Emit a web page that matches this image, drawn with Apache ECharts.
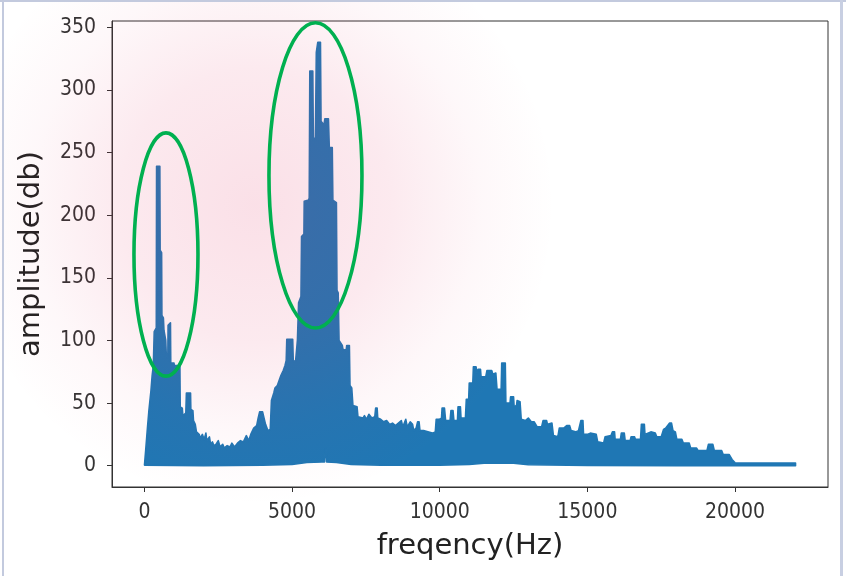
<!DOCTYPE html>
<html><head><meta charset="utf-8">
<script src="https://cdn.jsdelivr.net/npm/echarts@6/dist/echarts.min.js"></script>
<style>html,body{margin:0;padding:0;background:#fff}#c{width:846px;height:576px}</style>
</head><body><div id="c"></div>
<script>
// upper envelope of the spectrum (Hz, amplitude)
const freqHz = [0,40,100,150,220,260,300,330,400,410,520,530,580,590,640,660,720,740,790,800,880,890,1000,1010,1200,1210,1280,1300,1400,1420,1560,1570,1640,1660,1720,1760,1850,1900,1960,2020,2080,2110,2200,2240,2300,2350,2420,2500,2560,2650,2700,2800,2900,2960,3050,3150,3250,3350,3450,3530,3600,3700,3800,3850,3900,4000,4050,4100,4180,4260,4300,4380,4420,4500,4560,4620,4700,4760,4800,4820,5020,5040,5120,5180,5220,5300,5320,5400,5410,5560,5580,5600,5700,5720,5790,5820,5870,5960,5980,6080,6110,6230,6260,6360,6380,6500,6520,6560,6590,6700,6720,6830,6850,6940,6960,7020,7060,7200,7230,7400,7450,7520,7600,7700,7800,7830,7880,7900,8000,8100,8200,8300,8400,8500,8600,8700,8750,8850,8900,9000,9080,9120,9200,9250,9300,9330,9450,9600,9750,9850,9880,9980,10060,10080,10160,10200,10350,10380,10450,10480,10600,10620,10700,10720,10870,10900,10980,11000,11120,11140,11230,11260,11300,11380,11400,11560,11600,11760,11800,11900,11940,12080,12100,12220,12240,12380,12400,12500,12520,12600,12620,12720,12760,12900,13000,13100,13200,13300,13450,13500,13620,13650,13800,13850,14000,14050,14200,14300,14400,14450,14600,14700,14780,14850,14870,15000,15100,15300,15350,15550,15600,15800,15850,15920,15940,16120,16150,16250,16280,16450,16480,16600,16630,16800,16830,16930,16950,17050,17150,17300,17350,17500,17580,17650,17780,17850,17900,17980,18030,18200,18250,18450,18500,18700,18750,19050,19100,19250,19300,19550,19600,19800,19900,19980,20000,22050];
const upperDb = [0.5,12,30,44,60,72,80,107,110,239,239,172,170,120,118,108,100,88,86,112,114,82,82,80,80,47,46,40,42,58,58,45,44,36,33,27,25,22,25,21,26,20,23,17,19,16,17,20,15,17,14,16,15,18,15,18,20,19,24,20,25,30,32,38,43,43,38,33,28,29,52,58,62,64,68,72,76,80,84,101,101,83,84,100,130,135,183,185,211,212,214,315,315,260,262,330,338,338,275,272,277,277,254,254,212,210,140,138,100,96,93,92,96,96,64,62,48,47,39,38,40,37,41,38,39,46,46,38,37,35,36,33,34,32,34,36,31,37,31,35,33,28,30,35,35,28,28,27,26,27,37,37,38,46,46,36,36,44,44,36,36,47,47,38,38,53,53,66,66,79,79,74,77,77,71,71,76,76,73,74,61,61,82,82,50,50,55,55,47,48,52,51,37,36,38,35,35,31,31,36,36,33,34,24,23,30,30,32,32,28,27,28,36,36,25,25,26,25,19,18,23,24,27,27,21,21,26,26,20,20,23,23,21,21,33,33,25,26,27,26,23,23,29,30,34,34,28,27,21,21,18,18,14,14,12,12,17,17,12,12,9,9,5,3,2.2,2.2];
// lower edge of the filled trace
const lowerFreqHz = [0,1000,2000,3000,4000,5000,5500,6000,6100,6120,6150,6170,6500,7000,8000,10000,11000,11500,12500,13000,15000,18000,20000,22050];
const lowerDb = [0.5,0.3,0,0.3,0.5,1,2.5,3,3,13,13,3,2.5,1,0.5,0.5,1,2,2,0.8,0.3,0,0,0];
const xTicks = [0,5000,10000,15000,20000];
const yTicks = [0,50,100,150,200,250,300,350];
const xTitle = 'freqency(Hz)';
const yTitle = 'amplitude(db)';

const tickFont = '"DejaVu Sans Condensed", "DejaVu Sans", sans-serif';
const chart = echarts.init(document.getElementById('c'), null, {renderer:'canvas'});
const axisCommon = {
  type:'value',
  splitLine:{show:false},
  axisLine:{show:true, onZero:false, lineStyle:{color:'#333', width:1}},
  axisTick:{show:true, inside:false, length:5, lineStyle:{color:'#333', width:1}},
  axisLabel:{fontSize:21, color:'#333', fontFamily:tickFont, formatter:v=>String(v)}
};
chart.setOption({
  animation:false,
  backgroundColor:'#ffffff',
  grid:{left:112, right:18, top:21, bottom:89, show:true, borderColor:'#333', borderWidth:1, containLabel:false},
  xAxis:Object.assign({}, axisCommon, {
    min:-1100, max:23150,
    axisTick:Object.assign({}, axisCommon.axisTick, {customValues:xTicks}),
    axisLabel:Object.assign({}, axisCommon.axisLabel, {customValues:xTicks, margin:15}),
    name:xTitle, nameLocation:'middle', nameGap:45,
    nameTextStyle:{fontSize:29, color:'#222', fontFamily:'"DejaVu Sans", sans-serif'}
  }),
  yAxis:Object.assign({}, axisCommon, {
    min:-17, max:355,
    axisTick:Object.assign({}, axisCommon.axisTick, {customValues:yTicks}),
    axisLabel:Object.assign({}, axisCommon.axisLabel, {customValues:yTicks, margin:16}),
    name:yTitle, nameLocation:'middle', nameGap:66,
    nameTextStyle:{fontSize:29, color:'#222', fontFamily:'"DejaVu Sans", sans-serif'}
  }),
  series:[{
    type:'custom',
    coordinateSystem:'cartesian2d',
    silent:true,
    data:[[0,0]],
    renderItem:function(params, api){
      const pts = [];
      for (let i=0;i<freqHz.length;i++) pts.push(api.coord([freqHz[i], upperDb[i]]));
      for (let i=lowerFreqHz.length-1;i>=0;i--) pts.push(api.coord([lowerFreqHz[i], lowerDb[i]]));
      return {type:'polygon', shape:{points:pts},
        style:{fill:'#1f77b4', stroke:'#1f77b4', lineWidth:1.6, lineJoin:'round'}};
    }
  }]
});

function px(f, v){ return chart.convertToPixel({gridIndex:0}, [f, v]); }
function ellipseFrom(f0, f1, v0, v1){
  const a = px(f0, v1), b = px(f1, v0);
  return {type:'ellipse', silent:true, z:120,
    shape:{cx:(a[0]+b[0])/2, cy:(a[1]+b[1])/2, rx:Math.abs(b[0]-a[0])/2, ry:Math.abs(b[1]-a[1])/2},
    style:{fill:'none', stroke:'#00b050', lineWidth:3.6}};
}
chart.setOption({
  graphic:[
    {type:'circle', silent:true, z:100, shape:{cx:255, cy:205, r:300},
      style:{fill:new echarts.graphic.RadialGradient(0.5,0.5,0.5,[
        {offset:0, color:'rgba(225,45,95,0.15)'},
        {offset:0.45, color:'rgba(225,45,95,0.10)'},
        {offset:0.75, color:'rgba(225,45,95,0.035)'},
        {offset:1, color:'rgba(225,45,95,0)'}])}},
    ellipseFrom(-356, 1812, 71.5, 265.7),
    ellipseFrom(4216, 7366, 109.9, 353.6),
    {type:'rect', silent:true, z:130, shape:{x:0, y:0, width:846, height:2}, style:{fill:'#c3cade'}},
    {type:'rect', silent:true, z:130, shape:{x:2, y:0, width:2, height:576}, style:{fill:'#c3cade'}},
    {type:'rect', silent:true, z:130, shape:{x:840, y:0, width:3, height:576}, style:{fill:'#c8cfe2'}}
  ]
});
</script></body></html>
